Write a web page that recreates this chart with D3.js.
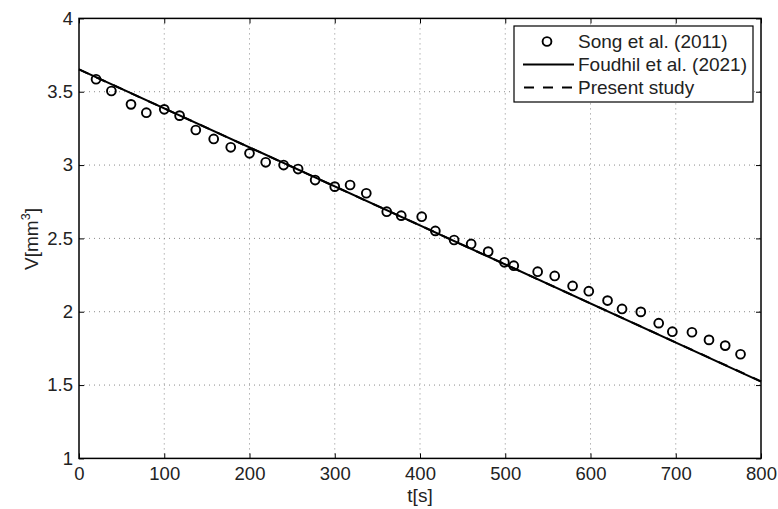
<!DOCTYPE html>
<html>
<head>
<meta charset="utf-8">
<script src="https://cdn.jsdelivr.net/npm/d3@7"></script>
<style>
  html, body { margin: 0; padding: 0; background: #fff; }
  svg { display: block; }
  text { font-family: "Liberation Sans", Arial, Helvetica, sans-serif; fill: #222; }
</style>
</head>
<body>
<svg id="chart" width="778" height="509"></svg>
<script>
// ---- data ----
const songT = [20, 38, 61, 79, 100, 118, 137, 158, 178, 200, 219, 240, 257, 277, 300, 318, 337, 361, 378, 402, 418, 440, 460, 480, 499, 510, 538, 558, 579, 598, 620, 637, 659, 680, 696, 719, 739, 758, 776];
const songV = [3.585, 3.505, 3.414, 3.357, 3.38, 3.337, 3.239, 3.178, 3.121, 3.08, 3.019, 3.0, 2.973, 2.898, 2.853, 2.864, 2.808, 2.682, 2.655, 2.648, 2.551, 2.489, 2.462, 2.41, 2.337, 2.314, 2.273, 2.244, 2.176, 2.14, 2.076, 2.019, 1.999, 1.922, 1.864, 1.86, 1.808, 1.769, 1.71];
const lineT = [0, 800];
const foudhilV = [3.653, 1.524];
const presentV = [3.652, 1.525];
const xTicks = [0, 100, 200, 300, 400, 500, 600, 700, 800];
const yTicks = [1, 1.5, 2, 2.5, 3, 3.5, 4];
const legendLabels = ["Song et al. (2011)", "Foudhil et al. (2021)", "Present study"];

// ---- layout ----
const L = 79, R = 761, T = 18.4, B = 458.4;
const FS = 18.5, LFS = 19;
const svg = d3.select("#chart");
const x = d3.scaleLinear().domain([0, 800]).range([L, R]);
const y = d3.scaleLinear().domain([1, 4]).range([B, T]);

// grid
const grid = svg.append("g").attr("stroke", "#8a8a8a").attr("stroke-width", 1).attr("stroke-dasharray", "1,4");
grid.selectAll(".gx").data(xTicks.slice(1, -1)).join("line")
  .attr("x1", d => x(d)).attr("x2", d => x(d)).attr("y1", T).attr("y2", B);
grid.selectAll(".gy").data(yTicks.slice(1, -1)).join("line")
  .attr("y1", d => y(d)).attr("y2", d => y(d)).attr("x1", L).attr("x2", R);

// axes (ticks inward on all four sides)
function styleAxis(g) {
  g.select(".domain").remove();
  g.selectAll(".tick line").attr("stroke", "#000").attr("stroke-width", 1);
  g.selectAll(".tick text").attr("font-size", FS).attr("fill", "#222")
    .attr("font-family", "'Liberation Sans', Arial, sans-serif");
}
svg.append("g").attr("transform", `translate(0,${B})`)
  .call(d3.axisBottom(x).tickValues(xTicks).tickSize(-5).tickPadding(8.5).tickFormat(d3.format("d")))
  .call(styleAxis);
svg.append("g").attr("transform", `translate(0,${T})`)
  .call(d3.axisTop(x).tickValues(xTicks).tickSize(-5).tickFormat(""))
  .call(styleAxis);
svg.append("g").attr("transform", `translate(${L},0)`)
  .call(d3.axisLeft(y).tickValues(yTicks).tickSize(-5).tickPadding(6).tickFormat(d => String(d)))
  .call(styleAxis);
svg.append("g").attr("transform", `translate(${R},0)`)
  .call(d3.axisRight(y).tickValues(yTicks).tickSize(-5).tickFormat(""))
  .call(styleAxis);

// frame
svg.append("rect").attr("x", L).attr("y", T).attr("width", R - L).attr("height", B - T)
  .attr("fill", "none").attr("stroke", "#000").attr("stroke-width", 1.5);

// lines
const line = d3.line().x(d => x(d[0])).y(d => y(d[1]));
svg.append("path").datum(lineT.map((t, i) => [t, presentV[i]]))
  .attr("d", line).attr("fill", "none").attr("stroke", "#000").attr("stroke-width", 2).attr("stroke-dasharray", "10,9");
svg.append("path").datum(lineT.map((t, i) => [t, foudhilV[i]]))
  .attr("d", line).attr("fill", "none").attr("stroke", "#000").attr("stroke-width", 2);

// circles
svg.append("g").selectAll("circle").data(songT.map((t, i) => [t, songV[i]])).join("circle")
  .attr("cx", d => x(d[0])).attr("cy", d => y(d[1])).attr("r", 4.4)
  .attr("fill", "none").attr("stroke", "#000").attr("stroke-width", 1.9);

// axis labels
svg.append("text").attr("x", (L + R) / 2).attr("y", 501.5).attr("text-anchor", "middle")
  .attr("font-size", LFS).text("t[s]");
const yl = svg.append("text").attr("transform", `translate(38,239) rotate(-90)`)
  .attr("text-anchor", "middle").attr("font-size", LFS);
yl.append("tspan").text("V[mm");
yl.append("tspan").attr("font-size", 12.5).attr("dy", -8).text("3");
yl.append("tspan").attr("dy", 8).text("]");

// legend
const lg = svg.append("g");
lg.append("rect").attr("x", 514).attr("y", 26).attr("width", 239).attr("height", 76)
  .attr("fill", "#fff").attr("stroke", "#000").attr("stroke-width", 1.2);
const rowY = [41.5, 64.5, 87.5];
lg.append("circle").attr("cx", 547).attr("cy", rowY[0]).attr("r", 4.4)
  .attr("fill", "none").attr("stroke", "#000").attr("stroke-width", 1.9);
lg.append("line").attr("x1", 523).attr("x2", 574).attr("y1", rowY[1]).attr("y2", rowY[1])
  .attr("stroke", "#000").attr("stroke-width", 2);
lg.append("line").attr("x1", 524).attr("x2", 572).attr("y1", rowY[2]).attr("y2", rowY[2])
  .attr("stroke", "#000").attr("stroke-width", 2).attr("stroke-dasharray", "10,9");
lg.selectAll(".lt").data(legendLabels).join("text")
  .attr("x", 578).attr("y", (d, i) => rowY[i]).attr("dy", "0.36em")
  .attr("font-size", LFS).text(d => d);
</script>
</body>
</html>
